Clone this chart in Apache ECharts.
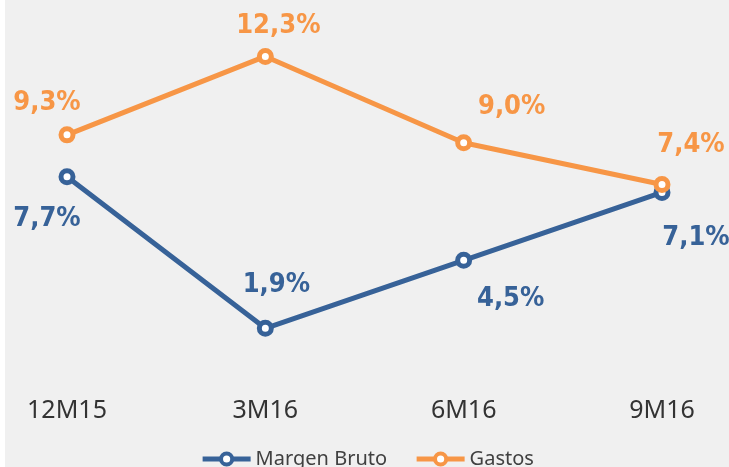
<!DOCTYPE html>
<html>
<head>
<meta charset="utf-8">
<script src="https://cdn.jsdelivr.net/npm/echarts@6/dist/echarts.min.js"></script>
<style>
  html, body { margin: 0; padding: 0; background: #fff; }
  #chart { position: absolute; left: 5px; top: 0; width: 724px; height: 467px; background: #f0f0f0; }
</style>
</head>
<body>
<div id="chart"></div>
<script>
const categories = ["12M15", "3M16", "6M16", "9M16"]
const margenBruto = [7.7, 1.9, 4.5, 7.1]
const gastos = [9.3, 12.3, 9.0, 7.4]

// where each value label sits relative to its point
const margenOffsets = [[-20, 42], [11, -43], [47, 39], [34, 46]]
const gastosOffsets = [[-20, -32], [13, -30], [48, -36], [29, -40]]

const blue = "#376298"
const orange = "#f79646"

function fmt(v) {
  return v.toFixed(1).replace(".", ",") + "%"
}

function points(values, offsets) {
  return values.map((v, i) => ({
    value: v,
    label: { offset: offsets[i] }
  }))
}

const labelStyle = color => ({
  show: true,
  position: "inside",
  color: color,
  fontFamily: "DejaVu Sans Condensed",
  fontWeight: "bold",
  fontSize: 27,
  formatter: p => fmt(p.value)
})

const mychart = echarts.init(document.getElementById("chart"))
mychart.setOption({
  animation: false,
  grid: { left: 62, right: 67, top: 12, bottom: 89 },
  legend: {
    top: 444,
    left: "center",
    itemWidth: 48,
    itemHeight: 14,
    itemGap: 27,
    lineStyle: { width: 5 },
    itemStyle: { borderWidth: 4 },
    textStyle: { fontFamily: "Noto Sans", fontSize: 20, color: "#404040" },
    data: ["Margen Bruto", "Gastos"]
  },
  xAxis: {
    type: "category",
    boundaryGap: false,
    data: categories,
    axisLine: { show: false },
    axisTick: { show: false },
    axisLabel: { fontFamily: "Noto Sans", fontSize: 25, color: "#333", margin: 20 }
  },
  yAxis: {
    type: "value",
    min: 0,
    max: 14,
    show: false
  },
  series: [
    {
      name: "Margen Bruto",
      type: "line",
      data: points(margenBruto, margenOffsets),
      color: blue,
      lineStyle: { width: 5, color: blue },
      symbol: "circle",
      symbolSize: 12,
      itemStyle: { color: "#fff", borderColor: blue, borderWidth: 5 },
      label: labelStyle(blue)
    },
    {
      name: "Gastos",
      type: "line",
      data: points(gastos, gastosOffsets),
      color: orange,
      lineStyle: { width: 5, color: orange },
      symbol: "circle",
      symbolSize: 12,
      itemStyle: { color: "#fff", borderColor: orange, borderWidth: 5 },
      label: labelStyle(orange)
    }
  ]
})
</script>
</body>
</html>
